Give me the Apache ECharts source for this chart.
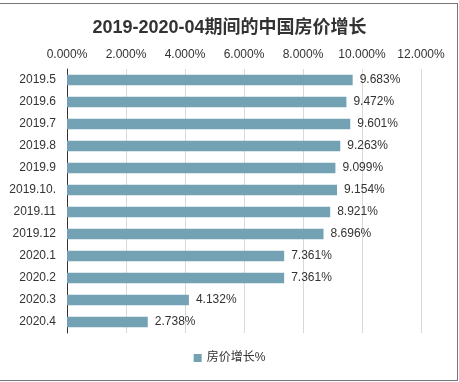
<!DOCTYPE html>
<html><head><meta charset="utf-8">
<script src="https://cdn.jsdelivr.net/npm/echarts@6/dist/echarts.min.js"></script>
<style>
html,body{margin:0;padding:0;background:#fff;overflow:hidden;}
#wrap{position:relative;width:459px;height:382px;}
#c{width:459px;height:382px;}
#frame{position:absolute;left:-2px;top:3px;width:460px;height:378px;box-sizing:border-box;border:1px solid #767676;pointer-events:none;}
</style></head>
<body><div id="wrap"><div id="c"></div><div id="frame"></div></div>
<script>
const categories = ['2019.5','2019.6','2019.7','2019.8','2019.9','2019.10.','2019.11','2019.12','2020.1','2020.2','2020.3','2020.4'];
const growth = [9.683,9.472,9.601,9.263,9.099,9.154,8.921,8.696,7.361,7.361,4.132,2.738];
const seriesName = '房价增长%';
const titleText = '2019-2020-04期间的中国房价增长';
const font = '"Liberation Sans", Arial, "Noto Sans CJK SC", sans-serif';

const chart = echarts.init(document.getElementById('c'));
chart.setOption({
  animation:false,
  title:{text:titleText,left:'center',top:14,textStyle:{fontFamily:font,fontSize:18,fontWeight:'bold',color:'#333'}},
  grid:{left:67,right:38,top:69,bottom:49,containLabel:false},
  legend:{bottom:13,left:'center',itemWidth:8,itemHeight:8,itemGap:4,icon:'rect',
    textStyle:{fontFamily:font,fontSize:12,color:'#333'},data:[seriesName]},
  xAxis:{type:'value',position:'top',min:0,max:12,interval:2,
    axisLine:{show:false},axisTick:{show:false},
    axisLabel:{fontFamily:font,fontSize:12,color:'#333',margin:8,formatter:v=>v.toFixed(3)+'%'},
    splitLine:{lineStyle:{color:'#d9d9d9',width:1}}},
  yAxis:{type:'category',data:categories,inverse:true,
    axisLine:{lineStyle:{color:'#333',width:1}},axisTick:{show:false},
    axisLabel:{fontFamily:font,fontSize:12,color:'#333',margin:11}},
  series:[{name:seriesName,type:'bar',data:growth,barWidth:'48%',
    itemStyle:{color:'#73a2b4'},
    label:{show:true,position:'right',distance:7,fontFamily:font,fontSize:12,color:'#333',
      formatter:p=>p.value.toFixed(3)+'%'}}]
});
</script></body></html>
